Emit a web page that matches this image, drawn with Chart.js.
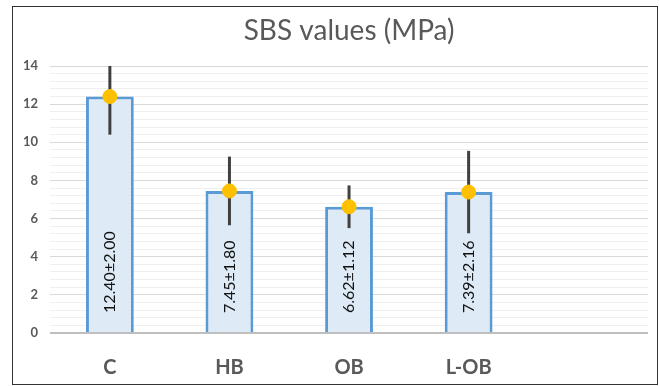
<!DOCTYPE html>
<html>
<head>
<meta charset="utf-8">
<script src="https://cdn.jsdelivr.net/npm/chart.js@4"></script>
<style>
  html, body { margin: 0; padding: 0; background: #fff; }
  #wrap { position: relative; width: 659px; height: 386px; }
  #chart { display: block; }
  #frame { position: absolute; left: 12px; top: 6px; width: 646px; height: 379px; border: 1px solid #333; pointer-events: none; box-sizing: border-box; }
</style>
</head>
<body>
<div id="wrap">
  <canvas id="chart" width="659" height="386"></canvas>
  <div id="frame"></div>
</div>
<script>
const groups = ["C", "HB", "OB", "L-OB", ""];
const means = [12.40, 7.45, 6.62, 7.39, null];
const sds = [2.00, 1.80, 1.12, 2.16, null];
const barLabels = ["12.40±2.00", "7.45±1.80", "6.62±1.12", "7.39±2.16", ""];
const titleText = "SBS values (MPa)";

const isEven = v => Math.abs(v / 2 - Math.round(v / 2)) < 1e-6;

// error bars go between the bars and the yellow dots, cut at the axis top
const errorBars = {
  id: "errorBars",
  afterDatasetDraw(chart, args) {
    if (args.index !== 0) return;
    const c = chart.ctx;
    const a = chart.chartArea;
    const y = chart.scales.y;
    const meta = chart.getDatasetMeta(0);
    c.save();
    c.beginPath();
    c.rect(a.left, a.top, a.right - a.left, a.bottom - a.top);
    c.clip();
    c.strokeStyle = "#404040";
    c.lineWidth = 3;
    meta.data.forEach((bar, i) => {
      if (means[i] == null) return;
      c.beginPath();
      c.moveTo(bar.x, y.getPixelForValue(means[i] + sds[i]));
      c.lineTo(bar.x, y.getPixelForValue(means[i] - sds[i]));
      c.stroke();
    });
    c.restore();
  }
};

const insideLabels = {
  id: "insideLabels",
  afterDatasetsDraw(chart) {
    const c = chart.ctx;
    const y0 = chart.scales.y.getPixelForValue(0);
    const meta = chart.getDatasetMeta(0);
    c.save();
    c.fillStyle = "#111";
    c.font = "16px Lato";
    c.textAlign = "left";
    c.textBaseline = "middle";
    meta.data.forEach((bar, i) => {
      if (!barLabels[i]) return;
      c.save();
      c.translate(bar.x, y0 - 20);
      c.rotate(-Math.PI / 2);
      c.fillText(barLabels[i], 0, 0);
      c.restore();
    });
    c.restore();
  }
};

// title centred over the plot area, like the original
const plotTitle = {
  id: "plotTitle",
  afterDraw(chart) {
    const c = chart.ctx;
    const a = chart.chartArea;
    c.save();
    c.fillStyle = "#595959";
    c.font = "28px Lato";
    c.textAlign = "center";
    c.textBaseline = "middle";
    c.fillText(titleText, (a.left + a.right) / 2, 31);
    c.restore();
  }
};

new Chart(document.getElementById("chart"), {
  data: {
    labels: groups,
    datasets: [
      {
        type: "bar",
        data: means,
        backgroundColor: "#deebf7",
        borderColor: "#5b9bd5",
        borderWidth: 3,
        categoryPercentage: 1,
        barPercentage: 0.4,
        order: 1
      },
      {
        type: "line",
        data: means,
        showLine: false,
        pointRadius: 7,
        pointBackgroundColor: "#ffc000",
        pointBorderColor: "#ffc000",
        order: 0
      }
    ]
  },
  options: {
    responsive: false,
    animation: false,
    layout: { padding: { top: 66, right: 11, bottom: -9, left: 11 } },
    plugins: {
      legend: { display: false },
      tooltip: { enabled: false },
      title: { display: false }
    },
    scales: {
      x: {
        grid: { display: false },
        border: { display: false },
        ticks: { color: "#595959", font: { family: "Lato", size: 20, weight: "bold" }, padding: 15 }
      },
      y: {
        min: 0,
        max: 14,
        border: { display: false },
        grid: {
          color: ctx => ctx.tick.value === 0 ? "#bfbfbf" : (isEven(ctx.tick.value) ? "#d9d9d9" : "#efefef"),
          lineWidth: ctx => ctx.tick.value === 0 ? 2 : 1,
          drawTicks: false
        },
        ticks: {
          stepSize: 0.4,
          autoSkip: false,
          padding: 12,
          color: "#595959",
          font: { family: "Lato", size: 13, weight: "bold" },
          callback: v => isEven(v) ? Math.round(v) : ""
        }
      }
    }
  },
  plugins: [errorBars, insideLabels, plotTitle]
});
</script>
</body>
</html>
